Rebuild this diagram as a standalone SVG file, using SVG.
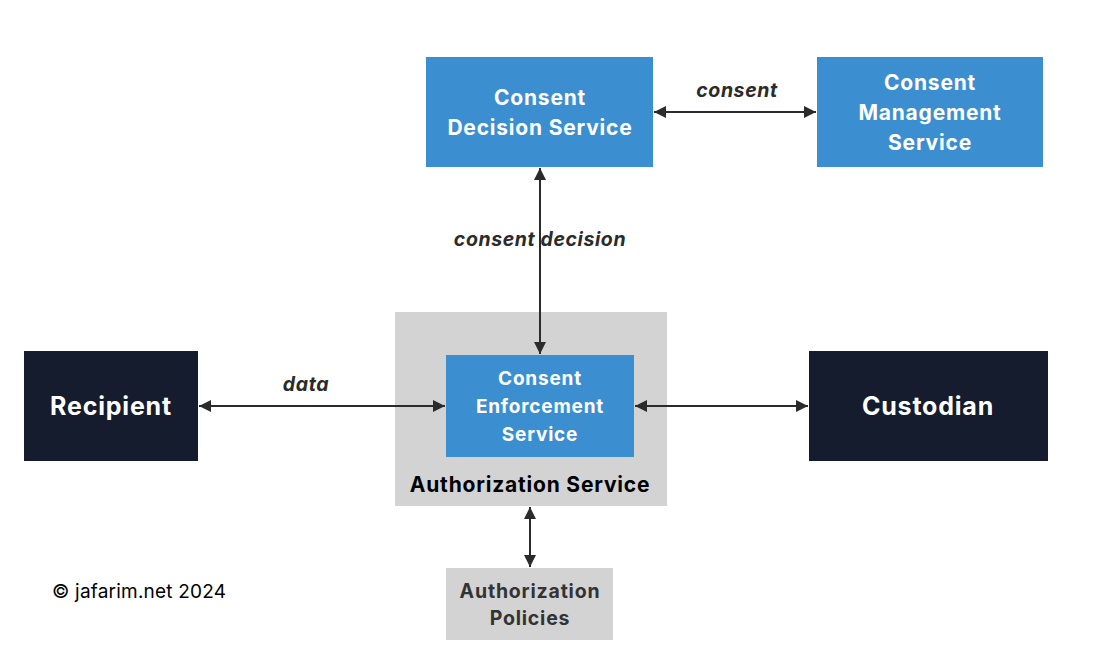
<svg xmlns="http://www.w3.org/2000/svg" width="1102" height="670" viewBox="0 0 1102 670">
<style>
.blue{fill:#3b8fd0}
.dark{fill:#141c2e}
.gray{fill:#d3d3d3}
.t{font-family:Inter,"Liberation Sans",sans-serif;font-weight:700;text-anchor:middle;dominant-baseline:central;letter-spacing:0.8px}
.w{fill:#ffffff}
.lbl{font-family:Inter,"Liberation Sans",sans-serif;font-weight:700;font-style:italic;font-size:19.5px;letter-spacing:0.6px;fill:#2b2b2b;text-anchor:middle;dominant-baseline:central}
.c{stroke:#2b2b2b;stroke-width:2;fill:none;marker-start:url(#ah);marker-end:url(#ah)}
</style>
<defs>
<marker id="ah" viewBox="0 0 10 10" refX="10" refY="5" markerWidth="6" markerHeight="6" orient="auto-start-reverse">
<path d="M0,0 L10,5 L0,10 z" fill="#2b2b2b"/>
</marker>
</defs>
<rect width="1102" height="670" fill="#ffffff"/>
<g id="authorization-service">
<rect class="gray" x="395" y="312" width="272" height="194"/>
<text class="t" x="530" y="484" font-size="21" fill="#000000">Authorization Service</text>
</g>
<g id="consent-decision-service">
<rect class="blue" x="426" y="57" width="227" height="110"/>
<text class="t w" x="540" y="97" font-size="21">Consent</text>
<text class="t w" x="540" y="127" font-size="21">Decision Service</text>
</g>
<g id="consent-management-service">
<rect class="blue" x="817" y="57" width="226" height="110"/>
<text class="t w" x="930" y="82" font-size="21">Consent</text>
<text class="t w" x="930" y="112" font-size="21">Management</text>
<text class="t w" x="930" y="142" font-size="21">Service</text>
</g>
<g id="consent-enforcement-service">
<rect class="blue" x="446" y="355" width="188" height="102"/>
<text class="t w" x="540" y="378" font-size="19">Consent</text>
<text class="t w" x="540" y="406" font-size="19">Enforcement</text>
<text class="t w" x="540" y="434" font-size="19">Service</text>
</g>
<g id="recipient">
<rect class="dark" x="24" y="351" width="174" height="110"/>
<text class="t w" x="111" y="406" font-size="25">Recipient</text>
</g>
<g id="custodian">
<rect class="dark" x="809" y="351" width="239" height="110"/>
<text class="t w" x="928" y="406" font-size="25">Custodian</text>
</g>
<g id="authorization-policies">
<rect class="gray" x="446" y="568" width="167" height="72"/>
<text class="t" x="530" y="591" font-size="19.5" fill="#333333">Authorization</text>
<text class="t" x="530" y="618" font-size="19.5" fill="#333333">Policies</text>
</g>
<g id="connectors">
<line class="c" x1="654" y1="112" x2="816" y2="112"/>
<line class="c" x1="540" y1="168" x2="540" y2="354"/>
<line class="c" x1="199" y1="406" x2="445" y2="406"/>
<line class="c" x1="635" y1="406" x2="808" y2="406"/>
<line class="c" x1="530" y1="507" x2="530" y2="567"/>
<text class="lbl" x="737" y="90">consent</text>
<text class="lbl" x="540" y="239">consent decision</text>
<text class="lbl" x="306" y="384">data</text>
</g>
<text x="52" y="591" font-family="Inter,'Liberation Sans',sans-serif" font-size="19" letter-spacing="0.2" fill="#000000" dominant-baseline="central">© jafarim.net 2024</text>
</svg>
